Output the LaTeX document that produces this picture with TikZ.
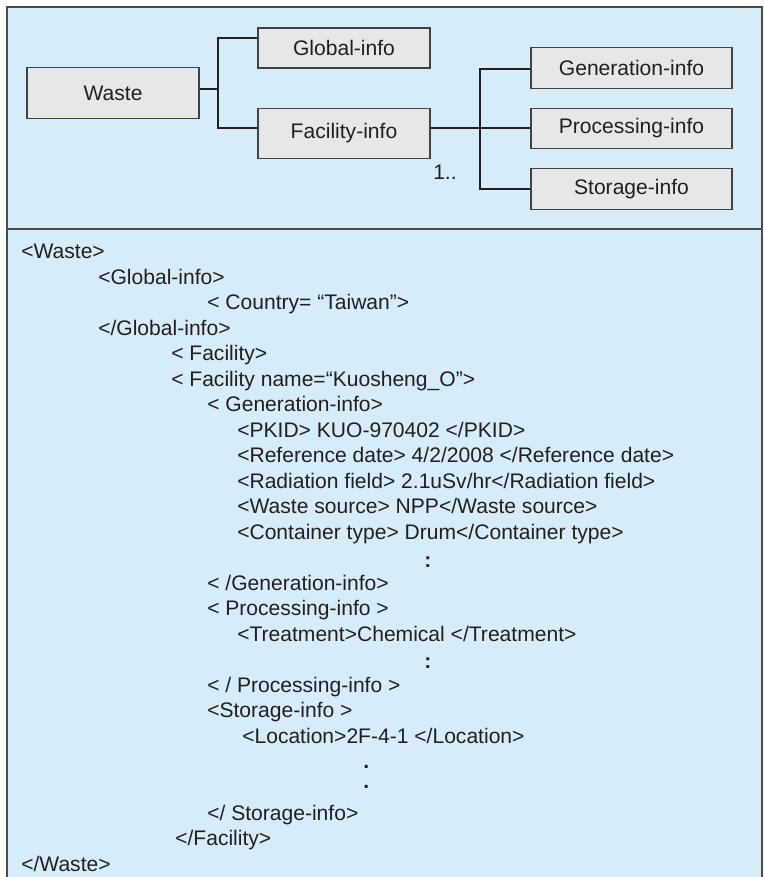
\documentclass[tikz,border=0pt]{standalone}
\usepackage{fontspec}
\setmainfont{Liberation Sans}
\definecolor{bg}{HTML}{D6ECF9}
\definecolor{boxfill}{HTML}{E6E7E8}
\definecolor{framec}{HTML}{4A4A4A}
\definecolor{ink}{HTML}{231F20}
\begin{document}
\begin{tikzpicture}[x=0.75pt,y=-0.75pt,
  txt/.style={font=\fontsize{15.8}{18}\selectfont, text=ink, inner sep=0pt},
  xml/.style={txt, anchor=base west},
  box/.style={txt, draw=ink!85, line width=0.9pt, fill=boxfill},
  smallbox/.style={box, minimum width=129pt, minimum height=30pt},
  bigbox/.style={box, minimum width=129pt, minimum height=37.8pt},
  widebox/.style={box, minimum width=150.75pt, minimum height=30.4pt},
  conn/.style={draw=ink, line width=1.5pt},
  framel/.style={draw=framec, line width=1.4pt}]
\useasboundingbox (0,0) rectangle (763,877);
% background and frame
\fill[bg] (7,7) rectangle (762,877);
\draw[framel] (7,877) -- (7,7) -- (762,7) -- (762,877);
\draw[framel] (7,229) -- (762,229);
% tree boxes
\node[bigbox] (waste) at (113,93) {Waste};
\node[smallbox] (global) at (344,48) {Global-info};
\node[bigbox] (facility) at (344,133.5) {Facility-info};
\node[widebox] (gen) at (631.5,68) {Generation-info};
\node[widebox] (proc) at (631.5,128.5) {Processing-info};
\node[widebox] (stor) at (631.5,189) {Storage-info};
\node[xml] (mult) at (433,179.5) {1..};
% connectors
\coordinate (j1) at (218,89);
\coordinate (j2) at (480,128);
\draw[conn] (waste.east |- j1) -- (j1);
\draw[conn] (global.west |- 0,38) -| (j1) |- (facility.west |- 0,128);
\draw[conn] (facility.east |- j2) -- (proc.west |- j2);
\draw[conn] (gen.west |- 0,69) -| (j2) |- (stor.west);
% XML listing
\node[xml] (l1) at (21,258.5) {<Waste>};
\node[xml] (l2) at (98,284) {<Global-info>};
\node[xml] (l3) at (207,309.5) {< Country= “Taiwan”>};
\node[xml] (l4) at (98,335) {</Global-info>};
\node[xml] (l5) at (171,360.5) {< Facility>};
\node[xml] (l6) at (171,386) {< Facility name=“Kuosheng\_O”>};
\node[xml] (l7) at (207,411.5) {< Generation-info>};
\node[xml] (l8) at (237,437) {<PKID> KUO-970402 </PKID>};
\node[xml] (l9) at (237,462.5) {<Reference date> 4/2/2008 </Reference date>};
\node[xml] (l10) at (237,488) {<Radiation field> 2.1uSv/hr</Radiation field>};
\node[xml] (l11) at (237,513.5) {<Waste source> NPP</Waste source>};
\node[xml] (l12) at (237,539) {<Container type> Drum</Container type>};
\node[xml] (l13) at (424,567.5) {\textbf{:}};
\node[xml] (l14) at (207,590) {< /Generation-info>};
\node[xml] (l15) at (207,615.5) {< Processing-info >};
\node[xml] (l16) at (237,641) {<Treatment>Chemical </Treatment>};
\node[xml] (l17) at (424,668.5) {\textbf{:}};
\node[xml] (l18) at (207,692) {< / Processing-info >};
\node[xml] (l19) at (207,717.5) {<Storage-info >};
\node[xml] (l20) at (242,743) {<Location>2F-4-1 </Location>};
\node[xml] (l21) at (363,768.5) {\textbf{.}};
\node[xml] (l22) at (363,788.5) {\textbf{.}};
\node[xml] (l23) at (207,820) {</ Storage-info>};
\node[xml] (l24) at (175,845.5) {</Facility>};
\node[xml] (l25) at (21,871) {</Waste>};
\end{tikzpicture}
\end{document}
